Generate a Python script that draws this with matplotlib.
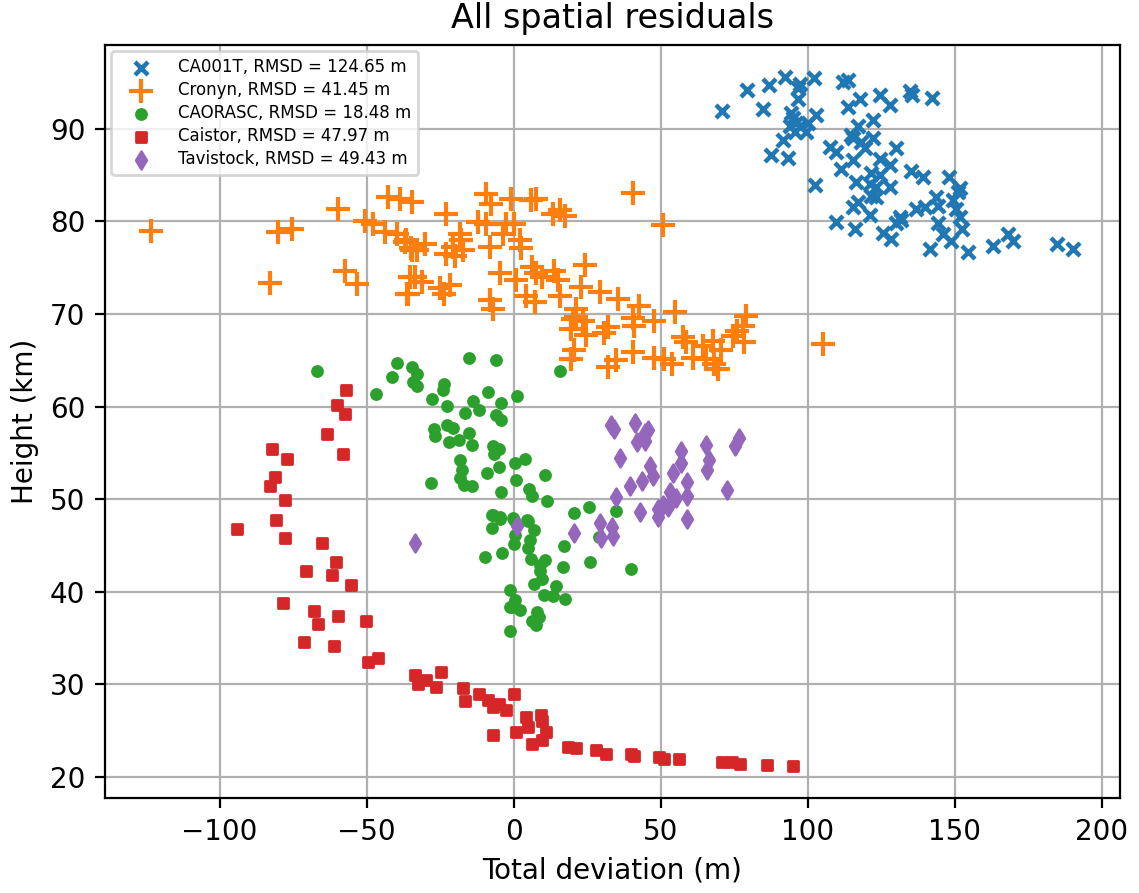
import numpy as np
import matplotlib
matplotlib.use("Agg")
import matplotlib.pyplot as plt

# CA001T
ca_x = [70.8, 79.3, 86.7, 92.4, 96.6, 97.2, 102.0, 84.7, 96.6, 94.3, 94.9, 96.0, 93.8, 97.2,
        100.0, 102.8, 99.4, 95.5, 91.5, 87.5, 93.2, 102.3, 111.9, 113.6, 117.6, 113.6, 124.4,
        127.8, 134.8, 135.3, 142.3, 122.2, 117.0, 114.7, 107.4, 109.7, 115.3, 118.2, 122.2,
        119.3, 115.3, 111.4, 124.4, 127.8, 130.1, 121.6, 124.4, 116.5, 121.0, 127.8, 123.3,
        121.6, 123.3, 135.2, 139.2, 148.1, 151.7, 151.1, 143.7, 139.8, 136.9, 144.3, 149.3,
        150.4, 115.3, 117.0, 121.0, 109.7, 115.9, 131.2, 130.1, 131.8, 125.6, 128.4, 144.3,
        151.7, 152.3, 146.0, 148.7, 141.5, 154.5, 163.0, 167.9, 169.6, 184.6, 190.3]
ca_y = [91.9, 94.2, 94.7, 95.6, 94.4, 94.8, 95.5, 92.1, 93.2, 91.7, 91.2, 90.6, 90.3, 90.3,
        90.6, 91.5, 89.7, 89.7, 88.8, 87.2, 86.9, 83.9, 95.1, 95.3, 93.2, 92.4, 93.7,
        92.6, 94.1, 93.7, 93.3, 91.0, 90.3, 89.3, 88.1, 87.5, 89.0, 88.6, 89.0,
        87.9, 86.6, 85.7, 86.8, 86.1, 87.9, 85.2, 85.0, 84.3, 84.1, 83.7, 83.7,
        82.8, 82.6, 85.5, 84.8, 84.8, 83.6, 83.2, 82.6, 81.6, 81.4, 81.7, 82.3,
        81.4, 81.6, 82.1, 80.7, 79.9, 79.2, 80.5, 79.8, 80.2, 78.8, 78.1, 79.8,
        80.5, 79.2, 78.7, 77.9, 77.0, 76.7, 77.4, 78.7, 77.9, 77.6, 77.0]

# Cronyn
cr_x = [-123.3, -80.0, -75.5, -82.8, -59.8, -57.3, -53.4, -50.6, -47.7, -42.7, -38.7, -34.7,
        -43.8, -39.8, -37.0, -34.7, -35.3, -36.1,
        -22.9, -9.3, -7.6, -0.8, 6.0, 7.7, 13.4, 15.6, 17.3, -12.1, -9.3, -2.5, 0.0, -3.6,
        2.0, 2.6, -8.2, -18.4, -17.8, -20.6, -22.9, -20.1, -17.3, -30.3, -34.8, -36.5, -32.7,
        -33.7, -36.0, -31.0, -24.9, -21.5, -23.8, -4.8, 0.9, 6.3, 7.5, 9.8, 13.8, 15.2, -8.2,
        -7.0, 4.3, 7.1, 15.6, 24.1, 23.0, 29.3, 21.3,
        35.3, 42.6, 21.1, 20.0, 23.4, 19.4, 24.5, 30.7, 31.9, 40.4, 40.9, 47.7, 55.0, 57.4,
        58.5, 64.2, 67.6, 70.4, 68.1, 65.3, 78.9, 77.8, 76.0, 78.3, 74.4, 105.0, 19.5, 20.6,
        31.9, 34.7, 40.4, 47.7, 53.9, 51.1, 60.8, 69.3, 40.5, 50.7]
cr_y = [79.0, 78.9, 79.2, 73.4, 81.4, 74.6, 73.3, 80.1, 79.7, 82.6, 82.4, 82.1,
        78.9, 78.7, 77.8, 76.9, 74.0, 72.2,
        80.8, 83.0, 81.9, 82.4, 82.3, 82.4, 80.8, 81.2, 80.6, 79.9, 79.7, 79.7, 79.7, 78.7,
        78.0, 77.1, 77.2, 78.7, 78.0, 77.2, 76.5, 76.3, 76.9, 77.6, 77.1, 78.0, 76.9,
        74.0, 72.2, 73.5, 72.8, 73.1, 72.2, 74.4, 73.7, 75.1, 74.4, 74.0, 74.7, 73.7, 71.5,
        70.6, 71.9, 71.3, 72.0, 75.3, 72.9, 72.4, 69.7,
        71.6, 70.9, 70.5, 69.5, 69.3, 68.4, 67.7, 68.0, 68.6, 69.6, 68.7, 69.3, 70.2, 67.5,
        67.0, 66.6, 67.1, 66.1, 64.6, 65.2, 69.8, 68.7, 68.2, 67.0, 67.6, 66.8, 65.2, 66.1,
        64.3, 65.0, 65.9, 65.3, 64.6, 65.2, 65.3, 64.1, 83.1, 79.6]

# CAORASC
co_x = [-66.7, -46.8, -39.5, -41.2, -34.5, -33.0, -34.2, -32.8, -15.2, -6.1, -23.6, -24.0,
        -27.7, -22.5, -8.7, -13.9, -11.8, -16.5, -4.2, 1.2, -6.1, -4.2, -27.0, -26.8, -22.7,
        -20.7, -15.3, -22.0, -18.6, -14.3, -7.0, -5.0, -6.8, -18.3, -17.6, -18.3, -16.9,
        -14.0, -9.2, -5.0, 0.5, 3.8, 0.7, 5.3, 6.4, 10.8, 11.3, -4.2, -28.2, 15.6,
        -7.3, -4.8, -0.2, 4.6,
        -7.0, -4.5, -7.4, 0.0, 4.8, 6.8, 0.6, 0.0, 5.7, 4.8, -9.6, -4.0, 5.9, 8.8, 10.7, 9.1,
        9.6, 6.8, 14.5, 16.7, 17.0, 20.4, 25.5, 34.9, 26.0, 40.0, 28.9, -1.4, 10.2, 13.4,
        17.3, 0.6, -0.6, 2.3, -1.4, 7.9, 8.5, 6.1, 7.6, -1.4]
co_y = [63.9, 61.4, 64.7, 63.2, 64.3, 63.5, 62.7, 62.2, 65.3, 65.0, 62.4, 61.8,
        60.8, 60.1, 61.6, 60.6, 59.6, 59.3, 60.4, 61.1, 59.1, 58.6, 57.6, 56.8, 58.0,
        57.7, 57.2, 56.2, 56.4, 55.9, 55.7, 55.4, 54.9, 54.2, 53.2, 52.3, 51.5,
        51.4, 52.8, 53.5, 53.9, 54.4, 52.1, 51.1, 50.4, 52.6, 49.8, 50.8, 51.8, 63.8,
        48.3, 48.1, 48.0, 47.8,
        48.3, 47.9, 46.9, 47.8, 47.6, 46.7, 46.1, 45.2, 45.6, 44.7, 43.8, 44.2, 43.6, 42.9, 43.4, 42.2,
        41.4, 40.9, 40.6, 42.7, 44.9, 48.5, 49.2, 48.7, 43.2, 42.5, 45.9, 40.2, 39.7, 39.5,
        39.2, 39.1, 38.4, 38.0, 38.4, 37.8, 37.3, 36.9, 36.4, 35.8]

# Caistor
cs_x = [-57.0, -60.2, -57.4, -63.3, -57.9, -82.2, -76.9, -81.1, -82.8, -77.9, -80.9, -94.1,
        -77.6, -65.2, -60.4, -70.7, -61.9, -55.2, -78.3, -67.9, -59.6, -66.6, -50.3, -71.4,
        -61.0, -49.4, -46.2,
        -33.7, -32.6, -29.8, -26.4, -24.7, -17.3, -16.7, -11.7, -8.8, -7.1, -4.9, -2.6, 0.2,
        -6.9, 0.8, 4.2, 4.8, 9.3, 9.8, 11.0, 6.4, 9.8, 18.3, 21.2, 28.1, 31.3, 39.8, 40.9,
        49.4, 51.1, 56.2, 70.9, 74.3, 77.1, 86.0, 95.0]
cs_y = [61.8, 60.2, 59.2, 57.1, 54.9, 55.4, 54.4, 52.4, 51.4, 49.9, 47.8, 46.8,
        45.8, 45.3, 43.2, 42.2, 41.8, 40.7, 38.8, 37.9, 37.4, 36.5, 36.9, 34.6,
        34.2, 32.4, 32.9,
        31.0, 30.1, 30.5, 29.7, 31.3, 29.6, 28.2, 29.0, 28.3, 27.6, 27.9, 27.2, 29.0,
        24.5, 24.9, 26.5, 25.4, 26.7, 26.0, 24.9, 23.6, 24.0, 23.2, 23.1, 22.9, 22.5, 22.5, 22.3,
        22.2, 22.0, 21.9, 21.6, 21.6, 21.4, 21.3, 21.2]

# Tavistock
tv_x = [-33.7, 1.1, 20.4, 29.4, 29.8, 33.4, 33.6, 34.9, 36.3, 33.2, 34.0, 41.2, 41.9, 44.8,
        44.5, 45.7, 39.5, 43.7, 43.1, 46.2, 47.3, 49.1, 48.9, 50.8, 52.5, 53.1, 54.2, 55.1,
        56.8, 57.0, 59.0, 59.0, 58.8, 65.5, 66.4, 65.7, 72.6, 75.2, 76.7]
tv_y = [45.3, 47.1, 46.4, 47.4, 45.8, 47.0, 46.0, 50.2, 54.5, 58.0, 57.6, 58.2, 56.2, 56.3,
        57.2, 57.5, 51.4, 52.0, 48.6, 53.6, 52.5, 49.0, 48.1, 49.4, 49.2, 50.8, 52.8, 50.1,
        55.2, 53.9, 51.9, 50.4, 47.9, 55.9, 54.2, 53.2, 51.0, 55.8, 56.6]

labels = ["CA001T, RMSD = 124.65 m", "Cronyn, RMSD = 41.45 m", "CAORASC, RMSD = 18.48 m",
          "Caistor, RMSD = 47.97 m", "Tavistock, RMSD = 49.43 m"]

fig, ax = plt.subplots(figsize=(5.695, 4.465), dpi=200)

ax.scatter(ca_x, ca_y, marker="x", s=22, linewidths=1.6, c="C0", label=labels[0])
ax.scatter(cr_x, cr_y, marker="+", s=80, linewidths=1.5, c="C1", label=labels[1])
ax.scatter(co_x, co_y, marker="o", s=13, c="C2", label=labels[2])
ax.scatter(cs_x, cs_y, marker="s", s=14, c="C3", label=labels[3])
ax.scatter(tv_x, tv_y, marker="d", s=20, c="C4", label=labels[4])

ax.set_xlim(-139, 206)
ax.set_ylim(17.7, 99.1)
ax.grid(True)
ax.set_axisbelow(True)
ax.set_xlabel("Total deviation (m)")
ax.set_ylabel("Height (km)")
ax.set_title("All spatial residuals")
ax.legend(loc="upper left", fontsize=6, labelspacing=0.3, handlelength=2.8,
          borderaxespad=0.4)

fig.subplots_adjust(left=0.092, right=0.983, bottom=0.106, top=0.95)
fig.savefig("out.png", dpi=200)
